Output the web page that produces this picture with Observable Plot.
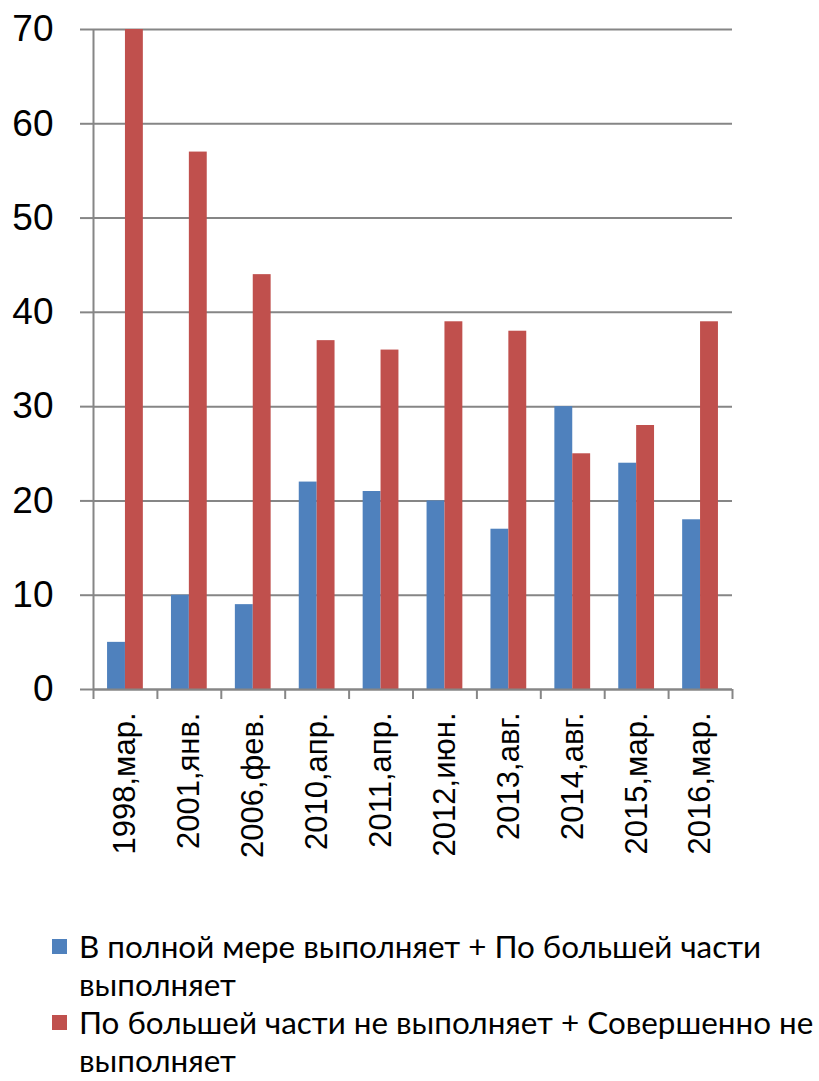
<!DOCTYPE html>
<html>
<head>
<meta charset="utf-8">
<script src="https://cdn.jsdelivr.net/npm/d3@7"></script>
<script src="https://cdn.jsdelivr.net/npm/@observablehq/plot@0.6"></script>
<style>
  html, body { margin: 0; padding: 0; background: #fff; }
  #chart svg { display: block; }
  #legend { margin-left: 52px; margin-top: 27px; font-family: Lato, "Open Sans", sans-serif; font-size: 31.4px; color: #000; white-space: nowrap; }
  .item { display: flex; align-items: flex-start; line-height: 38px; }
  .sw { width: 15px; height: 15px; margin-top: 12px; margin-right: 12px; flex: none; }
</style>
</head>
<body>
<div id="chart"></div>
<div id="legend"></div>
<script>
const categories = ["1998,мар.","2001,янв.","2006,фев.","2010,апр.","2011,апр.","2012,июн.","2013,авг.","2014,авг.","2015,мар.","2016,мар."];
const seriesNames = ["В полной мере выполняет + По большей части выполняет", "По большей части не выполняет + Совершенно не выполняет"];
const seriesColors = ["#4F81BD", "#C0504D"];
const blueValues = [5,10,9,22,21,20,17,30,24,18];
const redValues = [70,57,44,37,36,39,38,25,28,39];
const yTicks = [0,10,20,30,40,50,60,70];

const rows = [];
categories.forEach((c, i) => {
  rows.push({cat: c, series: seriesNames[0], value: blueValues[i]});
  rows.push({cat: c, series: seriesNames[1], value: redValues[i]});
});

const W = 819, H = 900, ml = 93, mr = 87, mt = 29, mb = 211;
const bw = (W - ml - mr) / categories.length;
const outer = bw * 0.22, barW = bw * 0.28;
const frameH = H - mt - mb;
const grey = "#868686";

const chart = Plot.plot({
  width: W, height: H,
  marginLeft: ml, marginRight: mr, marginTop: mt, marginBottom: mb,
  style: {fontFamily: "'Liberation Sans', Arial, sans-serif", background: "#fff"},
  x: {domain: categories, padding: 0, round: false},
  y: {domain: [0, 70]},
  color: {domain: seriesNames, range: seriesColors},
  marks: [
    Plot.gridY(yTicks, {stroke: grey, strokeOpacity: 1, strokeWidth: 2}),
    Plot.axisY(yTicks, {tickSize: 13, tickPadding: 27, fontSize: 37, stroke: grey, strokeWidth: 2, fill: "black", label: null}),
    Plot.barY(rows.filter(d => d.series === seriesNames[0]), {x: "cat", y: "value", fill: "series", insetLeft: outer, insetRight: bw - outer - barW}),
    Plot.barY(rows.filter(d => d.series === seriesNames[1]), {x: "cat", y: "value", fill: "series", insetLeft: outer + barW, insetRight: outer}),
    Plot.ruleX([categories[0]], {x: d => d, dx: -bw / 2, stroke: grey, strokeWidth: 2}),
    Plot.ruleY([0], {stroke: grey, strokeWidth: 2}),
    Plot.ruleX(categories, {x: d => d, dx: -bw / 2, insetTop: frameH, insetBottom: -10, stroke: grey, strokeWidth: 2}),
    Plot.ruleX([categories[categories.length - 1]], {x: d => d, dx: bw / 2, insetTop: frameH, insetBottom: -10, stroke: grey, strokeWidth: 2}),
    Plot.axisX({tickRotate: -90, tickSize: 0, tickPadding: 23, fontSize: 31, fill: "black", label: null})
  ]
});
document.getElementById("chart").appendChild(chart);

const legend = document.getElementById("legend");
seriesNames.forEach((name, i) => {
  const k = name.lastIndexOf(" ");
  const item = document.createElement("div");
  item.className = "item";
  const sw = document.createElement("div");
  sw.className = "sw";
  sw.style.background = seriesColors[i];
  const txt = document.createElement("div");
  txt.innerHTML = name.slice(0, k) + "<br>" + name.slice(k + 1);
  item.appendChild(sw);
  item.appendChild(txt);
  legend.appendChild(item);
});
</script>
</body>
</html>
